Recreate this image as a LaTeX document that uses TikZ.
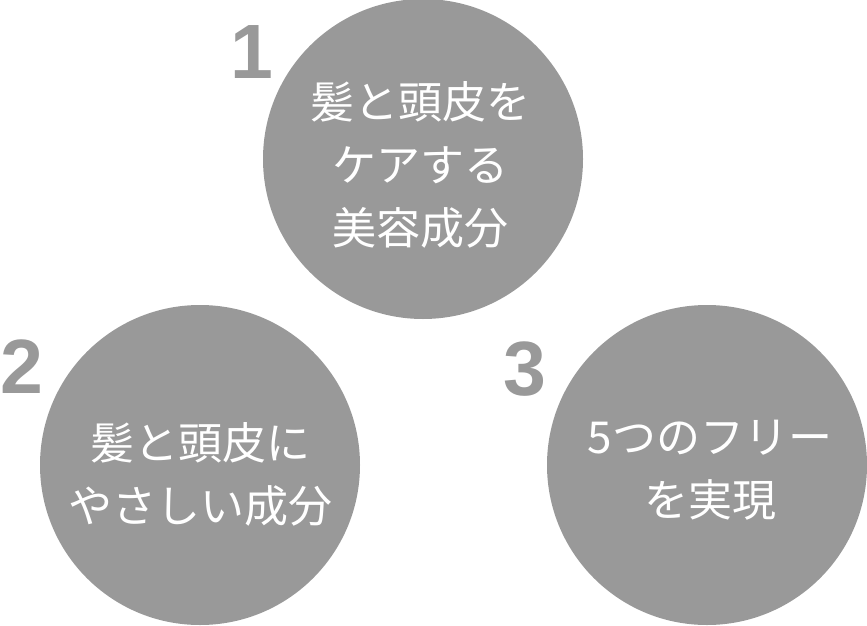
\documentclass[tikz,border=0pt]{standalone}
\usepackage{fontspec}
\newfontfamily\jp{Noto Sans CJK JP}
\newfontfamily\numfont{Liberation Sans}
\definecolor{discgray}{HTML}{999999}
\tikzset{
  disc/.style={circle, fill=discgray, minimum size=320pt, inner sep=0pt},
  disctext/.style={text=white, align=center, inner sep=0pt, font=\jp\fontsize{44}{63}\selectfont},
  numlabel/.style={text=discgray, inner sep=0pt, anchor=base, font=\numfont\bfseries\fontsize{77}{77}\selectfont}
}
\begin{document}
\begin{tikzpicture}[x=1pt,y=-1pt]
\useasboundingbox (0,0) rectangle (867,626);
\node[disc] (c1) at (423,159) {};
\node[disc] (c2) at (200,465) {};
\node[disc] (c3) at (707,465) {};
\node[disctext] (t1) at (420,165) {髪と頭皮を\\ケアする\\美容成分};
\node[disctext] (t2) at (200,474) {髪と頭皮に\\やさしい成分};
\node[disctext] (t3) at (710,470) {5つのフリー\\を実現};
\node[numlabel] (n1) at (252,78) {1};
\node[numlabel] (n2) at (22,393) {2};
\node[numlabel] (n3) at (525,395) {3};
\end{tikzpicture}
\end{document}
